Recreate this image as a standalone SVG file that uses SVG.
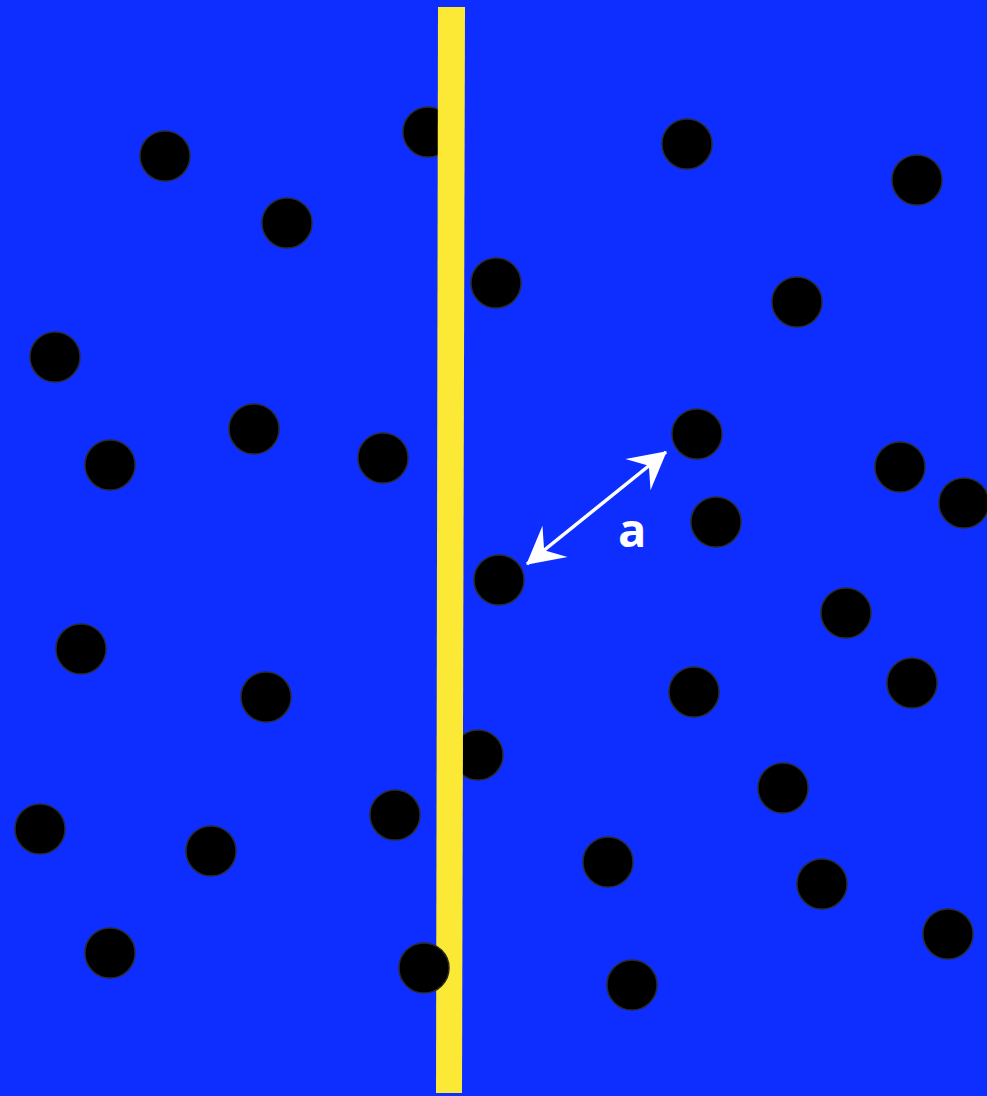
<svg xmlns="http://www.w3.org/2000/svg" width="987" height="1096" viewBox="0 0 987 1096">
<style>
.dot{fill:#000;stroke:#2a2a2a;stroke-width:1.5}
.lbl{font-family:"Open Sans","Liberation Sans",sans-serif;font-weight:bold;font-size:47px;fill:#fff}
</style>
<defs>
<marker id="ah" markerUnits="userSpaceOnUse" markerWidth="44" markerHeight="48" refX="0" refY="0" viewBox="-40 -24 44 48" orient="auto-start-reverse">
<path d="M1,0 L-36,-20 L-22,0 L-36,20 Z" fill="#fff"/>
</marker>
</defs>
<rect width="987" height="1096" fill="#0d2eff"/>
<g id="dots-back">
<circle id="c2" class="dot" cx="428" cy="132" r="25"/>
<circle id="c22" class="dot" cx="478" cy="755" r="25"/>
</g>
<polygon id="yellow-line" points="438,7 465,7 462,1093 436,1093" fill="#fce935"/>
<g id="dots">
<circle id="c1" class="dot" cx="165" cy="156" r="25"/>
<circle id="c3" class="dot" cx="287" cy="223" r="25"/>
<circle id="c4" class="dot" cx="687" cy="144" r="25"/>
<circle id="c5" class="dot" cx="917" cy="180" r="25"/>
<circle id="c6" class="dot" cx="496" cy="283" r="25"/>
<circle id="c7" class="dot" cx="797" cy="302" r="25"/>
<circle id="c8" class="dot" cx="55" cy="357" r="25"/>
<circle id="c9" class="dot" cx="254" cy="429" r="25"/>
<circle id="c10" class="dot" cx="110" cy="465" r="25"/>
<circle id="c11" class="dot" cx="383" cy="458" r="25"/>
<circle id="c12" class="dot" cx="697" cy="434" r="25"/>
<circle id="c13" class="dot" cx="900" cy="467" r="25"/>
<circle id="c14" class="dot" cx="964" cy="503" r="25"/>
<circle id="c15" class="dot" cx="716" cy="522" r="25"/>
<circle id="c16" class="dot" cx="499" cy="580" r="25"/>
<circle id="c17" class="dot" cx="846" cy="613" r="25"/>
<circle id="c18" class="dot" cx="81" cy="649" r="25"/>
<circle id="c19" class="dot" cx="266" cy="697" r="25"/>
<circle id="c20" class="dot" cx="694" cy="692" r="25"/>
<circle id="c21" class="dot" cx="912" cy="683" r="25"/>
<circle id="c23" class="dot" cx="783" cy="788" r="25"/>
<circle id="c24" class="dot" cx="40" cy="829" r="25"/>
<circle id="c25" class="dot" cx="395" cy="815" r="25"/>
<circle id="c26" class="dot" cx="211" cy="851" r="25"/>
<circle id="c27" class="dot" cx="608" cy="862" r="25"/>
<circle id="c28" class="dot" cx="822" cy="884" r="25"/>
<circle id="c29" class="dot" cx="948" cy="934" r="25"/>
<circle id="c30" class="dot" cx="110" cy="953" r="25"/>
<circle id="c31" class="dot" cx="424" cy="968" r="25"/>
<circle id="c32" class="dot" cx="632" cy="985" r="25"/>
</g>
<g id="connectors">
<line x1="527" y1="564" x2="666" y2="452" stroke="#fff" stroke-width="3.5" marker-start="url(#ah)" marker-end="url(#ah)"/>
</g>
<text class="lbl" x="618" y="547">a</text>
</svg>
